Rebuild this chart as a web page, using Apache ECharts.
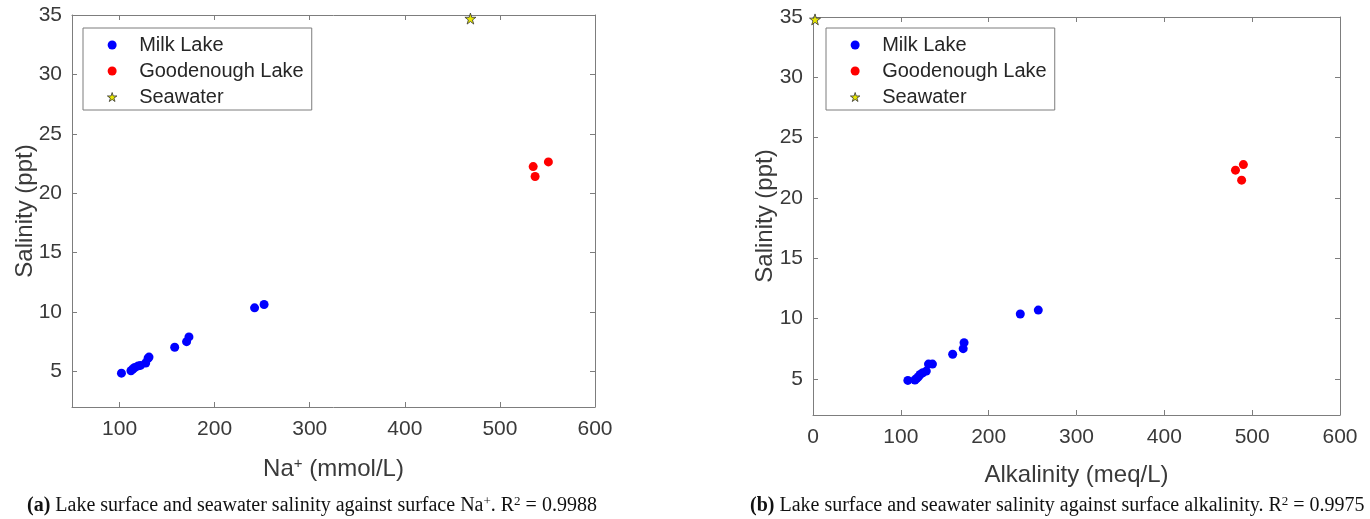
<!DOCTYPE html>
<html>
<head>
<meta charset="utf-8">
<script src="https://cdn.jsdelivr.net/npm/echarts@6/dist/echarts.min.js"></script>
<style>
html,body{margin:0;padding:0;background:#fff;}
#main{width:1370px;height:519px;}
</style>
</head>
<body>
<div id="main"></div>
<script>
// ---- data ----
var milkNa   = [102, 112, 114, 116, 119.5, 122, 127.5, 130, 131, 158, 170.5, 173, 242, 252];
var milkSalA = [4.85, 5.05, 5.2, 5.33, 5.46, 5.5, 5.7, 6.1, 6.2, 7.03, 7.5, 7.9, 10.35, 10.63];
var goodNa   = [535, 551, 537];
var goodSalA = [22.24, 22.63, 21.4];
var seaNa    = [469];
var seaSalA  = [34.7];

var milkAlk  = [108, 116, 118, 120, 122, 125, 129, 131.5, 136, 159, 171, 172, 236, 256.5];
var milkSalB = [4.87, 4.9, 5.03, 5.17, 5.36, 5.5, 5.64, 6.22, 6.22, 7.04, 7.5, 8.0, 10.37, 10.7];
var goodAlk  = [481, 490, 488];
var goodSalB = [22.3, 22.76, 21.47];
var seaAlk   = [2.3];
var seaSalB  = [34.8];

var seriesNames = ['Milk Lake', 'Goodenough Lake', 'Seawater'];
var xTicksA = [100, 200, 300, 400, 500, 600];
var xTicksB = [0, 100, 200, 300, 400, 500, 600];
var yTicks  = [5, 10, 15, 20, 25, 30, 35];

function pairs(xs, ys) { return xs.map(function (x, i) { return [x, ys[i]]; }); }

var FONT = '"Liberation Sans", Arial, Helvetica, sans-serif';
var SERIF = '"Liberation Serif", "Times New Roman", serif';
var LINE = '#7d7d7d';
var TXT = '#3a3a3a';
var STAR = 'path://M50,0 L61,35 L98,35 L68,57 L79,91 L50,70 L21,91 L32,57 L2,35 L39,35 Z';
var BLUE = '#0000ff', RED = '#ff0000', YEL = '#e8e800';

function xMain(grid, min, max, ticks, name, gap) {
  return {
    type: 'value', gridIndex: grid, position: 'bottom', min: min, max: max,
    name: name, nameLocation: 'middle', nameGap: gap, nameMoveOverlap: false,
    nameTextStyle: { fontFamily: FONT, fontSize: 24, color: TXT,
      rich: { sup: { fontFamily: FONT, fontSize: 15, color: TXT, verticalAlign: 'top', padding: [0, 0, 12, 0] } } },
    axisLine: { show: true, onZero: false, lineStyle: { color: LINE, width: 1 } },
    axisTick: { show: true, inside: true, length: 5, customValues: ticks, lineStyle: { color: LINE } },
    axisLabel: { show: true, margin: 12, customValues: ticks, fontFamily: FONT, fontSize: 21, color: TXT },
    splitLine: { show: false }
  };
}
function xMirror(grid, min, max, ticks) {
  return {
    type: 'value', gridIndex: grid, position: 'top', min: min, max: max,
    axisLine: { show: true, onZero: false, lineStyle: { color: LINE, width: 1 } },
    axisTick: { show: true, inside: true, length: 5, customValues: ticks, lineStyle: { color: LINE } },
    axisLabel: { show: false }, splitLine: { show: false }
  };
}
function yMain(grid, gap) {
  return {
    type: 'value', gridIndex: grid, position: 'left', min: 2, max: 35,
    name: 'Salinity (ppt)', nameLocation: 'middle', nameGap: gap, nameMoveOverlap: false,
    nameTextStyle: { fontFamily: FONT, fontSize: 24, color: TXT },
    axisLine: { show: true, onZero: false, lineStyle: { color: LINE, width: 1 } },
    axisTick: { show: true, inside: true, length: 5, customValues: yTicks, lineStyle: { color: LINE } },
    axisLabel: { show: true, margin: 10, customValues: yTicks, fontFamily: FONT, fontSize: 21, color: TXT },
    splitLine: { show: false }
  };
}
function yMirror(grid) {
  return {
    type: 'value', gridIndex: grid, position: 'right', min: 2, max: 35,
    axisLine: { show: true, onZero: false, lineStyle: { color: LINE, width: 1 } },
    axisTick: { show: true, inside: true, length: 5, customValues: yTicks, lineStyle: { color: LINE } },
    axisLabel: { show: false }, splitLine: { show: false }
  };
}

function scat(name, data, xi, yi, color, symbol, size) {
  var s = {
    name: name, type: 'scatter', xAxisIndex: xi, yAxisIndex: yi, data: data,
    symbol: symbol, symbolSize: size, clip: false,
    itemStyle: { color: color, opacity: 1 }
  };
  if (symbol !== 'circle') { s.itemStyle.borderColor = '#333'; s.itemStyle.borderWidth = 0.8; }
  return s;
}

function legend(left) {
  return {
    data: [
      { name: seriesNames[0], icon: 'circle', itemStyle: { color: BLUE, borderWidth: 0 } },
      { name: seriesNames[1], icon: 'circle', itemStyle: { color: RED, borderWidth: 0 } },
      { name: seriesNames[2], icon: STAR, itemStyle: { color: YEL, borderColor: '#333', borderWidth: 0.8 } }
    ],
    orient: 'vertical', left: left, top: 28,
    itemWidth: 44, itemHeight: 9, itemGap: 6, padding: [7, 8, 3, 24],
    borderColor: LINE, borderWidth: 1, backgroundColor: '#fff',
    selectedMode: false,
    textStyle: { fontFamily: FONT, fontSize: 20, lineHeight: 20, color: '#262626' }
  };
}

var capRich = {
  b: { fontFamily: SERIF, fontSize: 20, fontWeight: 'bold', fill: '#111' },
  sup: { fontFamily: SERIF, fontSize: 13, fill: '#111', verticalAlign: 'top', padding: [0, 0, 9, 0] }
};

var chart = echarts.init(document.getElementById('main'), null, { renderer: 'canvas' });
chart.setOption({
  backgroundColor: '#fff',
  animation: false,
  grid: [
    { left: 72, top: 15, width: 523, height: 392 },
    { left: 813, top: 17, width: 527, height: 398 }
  ],
  xAxis: [
    xMain(0, 50, 600, xTicksA, 'Na{sup|+} (mmol/L)', 49),
    xMirror(0, 50, 600, xTicksA),
    xMain(1, 0, 600, xTicksB, 'Alkalinity (meq/L)', 48),
    xMirror(1, 0, 600, xTicksB)
  ],
  yAxis: [yMain(0, 35), yMirror(0), yMain(1, 36), yMirror(1)],
  legend: [legend(83), legend(826)],
  series: [
    scat(seriesNames[0], pairs(milkNa, milkSalA), 0, 0, BLUE, 'circle', 9),
    scat(seriesNames[1], pairs(goodNa, goodSalA), 0, 0, RED, 'circle', 9),
    scat(seriesNames[2], pairs(seaNa, seaSalA), 0, 0, YEL, STAR, 11),
    scat(seriesNames[0], pairs(milkAlk, milkSalB), 2, 2, BLUE, 'circle', 9),
    scat(seriesNames[1], pairs(goodAlk, goodSalB), 2, 2, RED, 'circle', 9),
    scat(seriesNames[2], pairs(seaAlk, seaSalB), 2, 2, YEL, STAR, 11)
  ],
  graphic: [
    {
      type: 'text', left: 27, top: 495,
      style: {
        text: '{b|(a)} Lake surface and seawater salinity against surface Na{sup|+}. R{sup|2} = 0.9988',
        font: '20px ' + SERIF, fill: '#111', rich: capRich
      }
    },
    {
      type: 'text', left: 750, top: 495,
      style: {
        text: '{b|(b)} Lake surface and seawater salinity against surface alkalinity. R{sup|2} = 0.9975',
        font: '20px ' + SERIF, fill: '#111', rich: capRich
      }
    }
  ]
});
</script>
</body>
</html>
